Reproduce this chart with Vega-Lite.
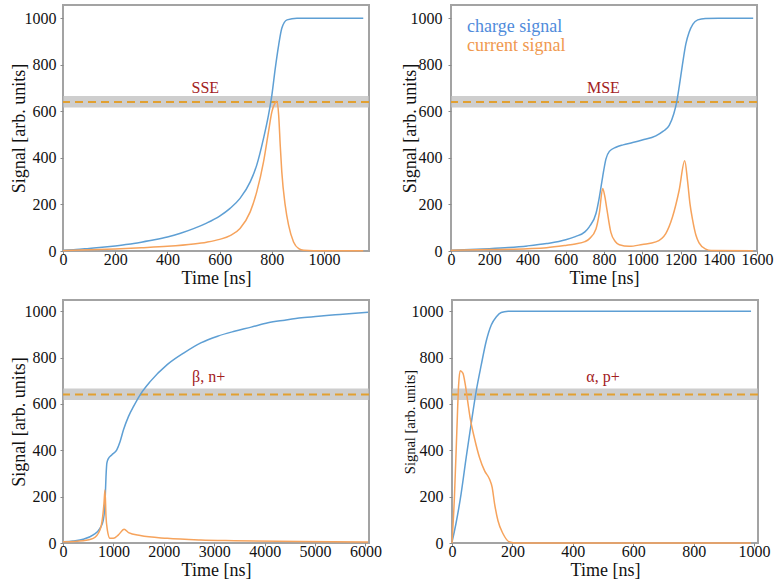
{
  "$schema": "https://vega.github.io/schema/vega-lite/v6.json",
  "padding": {"left": 9, "top": 4, "right": 0, "bottom": 0},
  "background": "white",
  "datasets": {
    "band": [{"lo": 617, "hi": 666, "thr": 640}],
    "labels": [
      {"panel": "SSE", "t": 545, "v": 700, "label": "SSE"},
      {"panel": "MSE", "t": 797, "v": 700, "label": "MSE"},
      {"panel": "beta", "t": 2890, "v": 718, "label": "β, n+"},
      {"panel": "alpha", "t": 500, "v": 718, "label": "α, p+"}
    ],
    "sse": [
      {"t": 0, "v": 3, "s": "charge signal"}, {"t": 50, "v": 6, "s": "charge signal"}, {"t": 100, "v": 11, "s": "charge signal"}, {"t": 150, "v": 16, "s": "charge signal"}, {"t": 200, "v": 22, "s": "charge signal"}, {"t": 250, "v": 29, "s": "charge signal"}, {"t": 300, "v": 38, "s": "charge signal"}, {"t": 350, "v": 48, "s": "charge signal"}, {"t": 400, "v": 60, "s": "charge signal"}, {"t": 450, "v": 76, "s": "charge signal"}, {"t": 500, "v": 96, "s": "charge signal"}, {"t": 550, "v": 120, "s": "charge signal"}, {"t": 600, "v": 150, "s": "charge signal"}, {"t": 640, "v": 183, "s": "charge signal"}, {"t": 678, "v": 226, "s": "charge signal"}, {"t": 717, "v": 297, "s": "charge signal"}, {"t": 742, "v": 369, "s": "charge signal"}, {"t": 768, "v": 484, "s": "charge signal"}, {"t": 787, "v": 584, "s": "charge signal"}, {"t": 800, "v": 670, "s": "charge signal"}, {"t": 813, "v": 785, "s": "charge signal"}, {"t": 826, "v": 885, "s": "charge signal"}, {"t": 838, "v": 957, "s": "charge signal"}, {"t": 858, "v": 993, "s": "charge signal"}, {"t": 896, "v": 1000, "s": "charge signal"}, {"t": 1000, "v": 1000, "s": "charge signal"}, {"t": 1150, "v": 1000, "s": "charge signal"},
      {"t": 0, "v": 2, "s": "current signal"}, {"t": 100, "v": 5, "s": "current signal"}, {"t": 200, "v": 9, "s": "current signal"}, {"t": 300, "v": 14, "s": "current signal"}, {"t": 400, "v": 20, "s": "current signal"}, {"t": 500, "v": 30, "s": "current signal"}, {"t": 550, "v": 38, "s": "current signal"}, {"t": 600, "v": 50, "s": "current signal"}, {"t": 640, "v": 66, "s": "current signal"}, {"t": 678, "v": 97, "s": "current signal"}, {"t": 717, "v": 168, "s": "current signal"}, {"t": 742, "v": 254, "s": "current signal"}, {"t": 768, "v": 383, "s": "current signal"}, {"t": 787, "v": 512, "s": "current signal"}, {"t": 800, "v": 598, "s": "current signal"}, {"t": 812, "v": 635, "s": "current signal"}, {"t": 819, "v": 643, "s": "current signal"}, {"t": 826, "v": 584, "s": "current signal"}, {"t": 832, "v": 455, "s": "current signal"}, {"t": 838, "v": 340, "s": "current signal"}, {"t": 851, "v": 197, "s": "current signal"}, {"t": 864, "v": 111, "s": "current signal"}, {"t": 883, "v": 39, "s": "current signal"}, {"t": 903, "v": 10, "s": "current signal"}, {"t": 922, "v": 3, "s": "current signal"}, {"t": 960, "v": 1, "s": "current signal"}, {"t": 1150, "v": 1, "s": "current signal"}
    ],
    "mse": [
      {"t": 0, "v": 3, "s": "charge signal"}, {"t": 100, "v": 6, "s": "charge signal"}, {"t": 200, "v": 10, "s": "charge signal"}, {"t": 300, "v": 15, "s": "charge signal"}, {"t": 400, "v": 22, "s": "charge signal"}, {"t": 500, "v": 32, "s": "charge signal"}, {"t": 600, "v": 48, "s": "charge signal"}, {"t": 650, "v": 62, "s": "charge signal"}, {"t": 700, "v": 82, "s": "charge signal"}, {"t": 723, "v": 104, "s": "charge signal"}, {"t": 758, "v": 161, "s": "charge signal"}, {"t": 776, "v": 233, "s": "charge signal"}, {"t": 793, "v": 319, "s": "charge signal"}, {"t": 810, "v": 395, "s": "charge signal"}, {"t": 828, "v": 428, "s": "charge signal"}, {"t": 863, "v": 446, "s": "charge signal"}, {"t": 900, "v": 456, "s": "charge signal"}, {"t": 950, "v": 466, "s": "charge signal"}, {"t": 1000, "v": 477, "s": "charge signal"}, {"t": 1071, "v": 495, "s": "charge signal"}, {"t": 1110, "v": 515, "s": "charge signal"}, {"t": 1141, "v": 540, "s": "charge signal"}, {"t": 1165, "v": 590, "s": "charge signal"}, {"t": 1180, "v": 640, "s": "charge signal"}, {"t": 1193, "v": 705, "s": "charge signal"}, {"t": 1210, "v": 800, "s": "charge signal"}, {"t": 1228, "v": 890, "s": "charge signal"}, {"t": 1245, "v": 940, "s": "charge signal"}, {"t": 1265, "v": 975, "s": "charge signal"}, {"t": 1290, "v": 993, "s": "charge signal"}, {"t": 1330, "v": 999, "s": "charge signal"}, {"t": 1400, "v": 1000, "s": "charge signal"}, {"t": 1580, "v": 1000, "s": "charge signal"},
      {"t": 0, "v": 3, "s": "current signal"}, {"t": 200, "v": 6, "s": "current signal"}, {"t": 400, "v": 10, "s": "current signal"}, {"t": 500, "v": 14, "s": "current signal"}, {"t": 600, "v": 24, "s": "current signal"}, {"t": 650, "v": 30, "s": "current signal"}, {"t": 700, "v": 40, "s": "current signal"}, {"t": 723, "v": 52, "s": "current signal"}, {"t": 758, "v": 95, "s": "current signal"}, {"t": 776, "v": 165, "s": "current signal"}, {"t": 793, "v": 269, "s": "current signal"}, {"t": 803, "v": 240, "s": "current signal"}, {"t": 815, "v": 180, "s": "current signal"}, {"t": 836, "v": 80, "s": "current signal"}, {"t": 860, "v": 40, "s": "current signal"}, {"t": 880, "v": 27, "s": "current signal"}, {"t": 932, "v": 20, "s": "current signal"}, {"t": 1000, "v": 28, "s": "current signal"}, {"t": 1071, "v": 39, "s": "current signal"}, {"t": 1123, "v": 75, "s": "current signal"}, {"t": 1158, "v": 146, "s": "current signal"}, {"t": 1193, "v": 261, "s": "current signal"}, {"t": 1222, "v": 388, "s": "current signal"}, {"t": 1237, "v": 300, "s": "current signal"}, {"t": 1250, "v": 200, "s": "current signal"}, {"t": 1263, "v": 135, "s": "current signal"}, {"t": 1280, "v": 70, "s": "current signal"}, {"t": 1297, "v": 35, "s": "current signal"}, {"t": 1332, "v": 8, "s": "current signal"}, {"t": 1360, "v": 2, "s": "current signal"}, {"t": 1580, "v": 1, "s": "current signal"}
    ],
    "beta": [
      {"t": 0, "v": 5, "s": "charge signal"}, {"t": 200, "v": 9, "s": "charge signal"}, {"t": 400, "v": 16, "s": "charge signal"}, {"t": 600, "v": 35, "s": "charge signal"}, {"t": 733, "v": 63, "s": "charge signal"}, {"t": 800, "v": 99, "s": "charge signal"}, {"t": 833, "v": 171, "s": "charge signal"}, {"t": 853, "v": 287, "s": "charge signal"}, {"t": 870, "v": 344, "s": "charge signal"}, {"t": 900, "v": 364, "s": "charge signal"}, {"t": 967, "v": 380, "s": "charge signal"}, {"t": 1067, "v": 402, "s": "charge signal"}, {"t": 1133, "v": 438, "s": "charge signal"}, {"t": 1200, "v": 488, "s": "charge signal"}, {"t": 1300, "v": 546, "s": "charge signal"}, {"t": 1400, "v": 589, "s": "charge signal"}, {"t": 1533, "v": 640, "s": "charge signal"}, {"t": 1733, "v": 697, "s": "charge signal"}, {"t": 2067, "v": 769, "s": "charge signal"}, {"t": 2400, "v": 820, "s": "charge signal"}, {"t": 2733, "v": 863, "s": "charge signal"}, {"t": 3067, "v": 892, "s": "charge signal"}, {"t": 3400, "v": 913, "s": "charge signal"}, {"t": 3733, "v": 931, "s": "charge signal"}, {"t": 4067, "v": 950, "s": "charge signal"}, {"t": 4400, "v": 961, "s": "charge signal"}, {"t": 4733, "v": 971, "s": "charge signal"}, {"t": 5067, "v": 978, "s": "charge signal"}, {"t": 5400, "v": 984, "s": "charge signal"}, {"t": 5733, "v": 990, "s": "charge signal"}, {"t": 6050, "v": 995, "s": "charge signal"},
      {"t": 0, "v": 5, "s": "current signal"}, {"t": 400, "v": 10, "s": "current signal"}, {"t": 600, "v": 20, "s": "current signal"}, {"t": 733, "v": 56, "s": "current signal"}, {"t": 787, "v": 114, "s": "current signal"}, {"t": 813, "v": 171, "s": "current signal"}, {"t": 833, "v": 229, "s": "current signal"}, {"t": 853, "v": 114, "s": "current signal"}, {"t": 880, "v": 56, "s": "current signal"}, {"t": 933, "v": 20, "s": "current signal"}, {"t": 1000, "v": 20, "s": "current signal"}, {"t": 1100, "v": 35, "s": "current signal"}, {"t": 1213, "v": 59, "s": "current signal"}, {"t": 1300, "v": 45, "s": "current signal"}, {"t": 1533, "v": 32, "s": "current signal"}, {"t": 2067, "v": 20, "s": "current signal"}, {"t": 2733, "v": 13, "s": "current signal"}, {"t": 3400, "v": 10, "s": "current signal"}, {"t": 4733, "v": 6, "s": "current signal"}, {"t": 6050, "v": 4, "s": "current signal"}
    ],
    "alpha": [
      {"t": 0, "v": 4, "s": "charge signal"}, {"t": 13, "v": 83, "s": "charge signal"}, {"t": 30, "v": 211, "s": "charge signal"}, {"t": 47, "v": 369, "s": "charge signal"}, {"t": 63, "v": 511, "s": "charge signal"}, {"t": 80, "v": 654, "s": "charge signal"}, {"t": 97, "v": 769, "s": "charge signal"}, {"t": 113, "v": 869, "s": "charge signal"}, {"t": 130, "v": 940, "s": "charge signal"}, {"t": 147, "v": 976, "s": "charge signal"}, {"t": 163, "v": 994, "s": "charge signal"}, {"t": 186, "v": 999, "s": "charge signal"}, {"t": 213, "v": 1000, "s": "charge signal"}, {"t": 990, "v": 1000, "s": "charge signal"},
      {"t": 0, "v": 0, "s": "current signal"}, {"t": 8, "v": 197, "s": "current signal"}, {"t": 16, "v": 483, "s": "current signal"}, {"t": 22, "v": 683, "s": "current signal"}, {"t": 27, "v": 743, "s": "current signal"}, {"t": 36, "v": 733, "s": "current signal"}, {"t": 44, "v": 683, "s": "current signal"}, {"t": 52, "v": 611, "s": "current signal"}, {"t": 60, "v": 540, "s": "current signal"}, {"t": 74, "v": 454, "s": "current signal"}, {"t": 91, "v": 369, "s": "current signal"}, {"t": 108, "v": 311, "s": "current signal"}, {"t": 124, "v": 276, "s": "current signal"}, {"t": 133, "v": 240, "s": "current signal"}, {"t": 141, "v": 169, "s": "current signal"}, {"t": 152, "v": 97, "s": "current signal"}, {"t": 169, "v": 40, "s": "current signal"}, {"t": 191, "v": 4, "s": "current signal"}, {"t": 213, "v": 0, "s": "current signal"}, {"t": 990, "v": 0, "s": "current signal"}
    ]
  },
  "vconcat": [
    {
      "hconcat": [
        {
          "width": 306, "height": 246,
          "layer": [
            {"data": {"name": "band"}, "mark": {"type": "rect", "color": "#bdbdbd", "opacity": 0.75}, "encoding": {"y": {"field": "lo", "type": "quantitative", "title": "Signal [arb. units]", "axis": {"values": [0, 200, 400, 600, 800, 1000], "titlePadding": -4}}, "y2": {"field": "hi"}}},
            {"data": {"name": "band"}, "mark": {"type": "rule", "color": "#e2a030", "strokeWidth": 2, "strokeDash": [8, 5]}, "encoding": {"y": {"field": "thr", "type": "quantitative", "title": "Signal [arb. units]", "axis": {"values": [0, 200, 400, 600, 800, 1000], "titlePadding": -4}}}},
            {"data": {"name": "sse"}, "mark": {"type": "line", "strokeWidth": 1.5, "interpolate": "monotone"},
             "encoding": {
               "x": {"field": "t", "type": "quantitative", "title": "Time [ns]", "scale": {"domain": [0, 1172], "nice": false, "zero": false}, "axis": {"values": [0, 200, 400, 600, 800, 1000]}},
               "y": {"field": "v", "type": "quantitative", "title": "Signal [arb. units]", "scale": {"domain": [0, 1057], "nice": false}, "axis": {"values": [0, 200, 400, 600, 800, 1000], "titlePadding": -4}},
               "color": {"field": "s", "type": "nominal", "scale": {"domain": ["charge signal", "current signal"], "range": ["#5e9fd4", "#f6a35c"]}, "legend": null}
             }},
            {"data": {"name": "labels"}, "transform": [{"filter": "datum.panel === 'SSE'"}], "mark": {"type": "text", "fontSize": 16, "color": "#a3211d", "font": "Liberation Serif"},
             "encoding": {"x": {"field": "t", "type": "quantitative", "title": "Time [ns]", "axis": {"values": [0, 200, 400, 600, 800, 1000]}}, "y": {"field": "v", "type": "quantitative", "title": "Signal [arb. units]", "axis": {"values": [0, 200, 400, 600, 800, 1000], "titlePadding": -4}}, "text": {"field": "label"}}}
          ]
        },
        {
          "width": 306, "height": 246,
          "layer": [
            {"data": {"name": "band"}, "mark": {"type": "rect", "color": "#bdbdbd", "opacity": 0.75}, "encoding": {"y": {"field": "lo", "type": "quantitative", "title": "Signal [arb. units]", "axis": {"values": [0, 200, 400, 600, 800, 1000], "labelPadding": 6, "titlePadding": -9}}, "y2": {"field": "hi"}}},
            {"data": {"name": "band"}, "mark": {"type": "rule", "color": "#e2a030", "strokeWidth": 2, "strokeDash": [8, 5]}, "encoding": {"y": {"field": "thr", "type": "quantitative", "title": "Signal [arb. units]", "axis": {"values": [0, 200, 400, 600, 800, 1000], "labelPadding": 6, "titlePadding": -9}}}},
            {"data": {"name": "mse"}, "mark": {"type": "line", "strokeWidth": 1.5, "interpolate": "monotone"},
             "encoding": {
               "x": {"field": "t", "type": "quantitative", "title": "Time [ns]", "scale": {"domain": [0, 1600], "nice": false, "zero": false}, "axis": {"values": [0, 200, 400, 600, 800, 1000, 1200, 1400, 1600]}},
               "y": {"field": "v", "type": "quantitative", "title": "Signal [arb. units]", "scale": {"domain": [0, 1057], "nice": false}, "axis": {"values": [0, 200, 400, 600, 800, 1000], "labelPadding": 6, "titlePadding": -9}},
               "color": {"field": "s", "type": "nominal", "scale": {"domain": ["charge signal", "current signal"], "range": ["#5e9fd4", "#f6a35c"]},
                 "legend": {"orient": "top-left", "offset": 13, "padding": 0, "title": null, "symbolSize": 0, "symbolStrokeWidth": 0, "symbolOpacity": 0, "labelOffset": -15, "labelFont": "Liberation Serif", "labelFontSize": 18, "rowPadding": 1, "labelLimit": 300,
                   "encode": {"labels": {"update": {"fill": {"signal": "datum.value === 'charge signal' ? '#4f8bdb' : '#f0994f'"}}}}}}
             }},
            {"data": {"name": "labels"}, "transform": [{"filter": "datum.panel === 'MSE'"}], "mark": {"type": "text", "fontSize": 16, "color": "#a3211d", "font": "Liberation Serif"},
             "encoding": {"x": {"field": "t", "type": "quantitative", "title": "Time [ns]", "axis": {"values": [0, 200, 400, 600, 800, 1000, 1200, 1400, 1600]}}, "y": {"field": "v", "type": "quantitative", "title": "Signal [arb. units]", "axis": {"values": [0, 200, 400, 600, 800, 1000], "labelPadding": 6, "titlePadding": -9}}, "text": {"field": "label"}}}
          ]
        }
      ],
      "spacing": 29,
      "resolve": {"scale": {"color": "independent"}, "legend": {"color": "independent"}}
    },
    {
      "hconcat": [
        {
          "width": 306, "height": 243,
          "layer": [
            {"data": {"name": "band"}, "mark": {"type": "rect", "color": "#bdbdbd", "opacity": 0.75}, "encoding": {"y": {"field": "lo", "type": "quantitative", "title": "Signal [arb. units]", "axis": {"values": [0, 200, 400, 600, 800, 1000], "titlePadding": -4}}, "y2": {"field": "hi"}}},
            {"data": {"name": "band"}, "mark": {"type": "rule", "color": "#e2a030", "strokeWidth": 2, "strokeDash": [8, 5]}, "encoding": {"y": {"field": "thr", "type": "quantitative", "title": "Signal [arb. units]", "axis": {"values": [0, 200, 400, 600, 800, 1000], "titlePadding": -4}}}},
            {"data": {"name": "beta"}, "mark": {"type": "line", "strokeWidth": 1.5, "interpolate": "monotone"},
             "encoding": {
               "x": {"field": "t", "type": "quantitative", "title": "Time [ns]", "scale": {"domain": [0, 6070], "nice": false, "zero": false}, "axis": {"values": [0, 1000, 2000, 3000, 4000, 5000, 6000]}},
               "y": {"field": "v", "type": "quantitative", "title": "Signal [arb. units]", "scale": {"domain": [0, 1048], "nice": false}, "axis": {"values": [0, 200, 400, 600, 800, 1000], "titlePadding": -4}},
               "color": {"field": "s", "type": "nominal", "scale": {"domain": ["charge signal", "current signal"], "range": ["#5e9fd4", "#f6a35c"]}, "legend": null}
             }},
            {"data": {"name": "labels"}, "transform": [{"filter": "datum.panel === 'beta'"}], "mark": {"type": "text", "fontSize": 16, "color": "#a3211d", "font": "Liberation Serif"},
             "encoding": {"x": {"field": "t", "type": "quantitative", "title": "Time [ns]", "axis": {"values": [0, 1000, 2000, 3000, 4000, 5000, 6000]}}, "y": {"field": "v", "type": "quantitative", "title": "Signal [arb. units]", "axis": {"values": [0, 200, 400, 600, 800, 1000], "titlePadding": -4}}, "text": {"field": "label"}}}
          ]
        },
        {
          "width": 306, "height": 243,
          "layer": [
            {"data": {"name": "band"}, "mark": {"type": "rect", "color": "#bdbdbd", "opacity": 0.75}, "encoding": {"y": {"field": "lo", "type": "quantitative", "title": "Signal [arb. units]", "axis": {"values": [0, 200, 400, 600, 800, 1000], "labelPadding": 6, "titlePadding": -6, "titleFontSize": 14.5}}, "y2": {"field": "hi"}}},
            {"data": {"name": "band"}, "mark": {"type": "rule", "color": "#e2a030", "strokeWidth": 2, "strokeDash": [8, 5]}, "encoding": {"y": {"field": "thr", "type": "quantitative", "title": "Signal [arb. units]", "axis": {"values": [0, 200, 400, 600, 800, 1000], "labelPadding": 6, "titlePadding": -6, "titleFontSize": 14.5}}}},
            {"data": {"name": "alpha"}, "mark": {"type": "line", "strokeWidth": 1.5, "interpolate": "monotone"},
             "encoding": {
               "x": {"field": "t", "type": "quantitative", "title": "Time [ns]", "scale": {"domain": [0, 1013], "nice": false, "zero": false}, "axis": {"values": [0, 200, 400, 600, 800, 1000]}},
               "y": {"field": "v", "type": "quantitative", "title": "Signal [arb. units]", "scale": {"domain": [0, 1048], "nice": false}, "axis": {"values": [0, 200, 400, 600, 800, 1000], "labelPadding": 6, "titlePadding": -6, "titleFontSize": 14.5}},
               "color": {"field": "s", "type": "nominal", "scale": {"domain": ["charge signal", "current signal"], "range": ["#5e9fd4", "#f6a35c"]}, "legend": null}
             }},
            {"data": {"name": "labels"}, "transform": [{"filter": "datum.panel === 'alpha'"}], "mark": {"type": "text", "fontSize": 16, "color": "#a3211d", "font": "Liberation Serif"},
             "encoding": {"x": {"field": "t", "type": "quantitative", "title": "Time [ns]", "axis": {"values": [0, 200, 400, 600, 800, 1000]}}, "y": {"field": "v", "type": "quantitative", "title": "Signal [arb. units]", "axis": {"values": [0, 200, 400, 600, 800, 1000], "labelPadding": 6, "titlePadding": -6, "titleFontSize": 14.5}}, "text": {"field": "label"}}}
          ]
        }
      ],
      "spacing": 18,
      "resolve": {"scale": {"color": "independent"}, "legend": {"color": "independent"}}
    }
  ],
  "spacing": 11,
  "resolve": {"scale": {"color": "independent"}, "legend": {"color": "independent"}},
  "config": {
    "font": "Liberation Serif",
    "view": {"stroke": "#a3a3a3", "strokeWidth": 2},
    "axis": {"grid": false, "domain": false, "tickColor": "#8a8a8a", "tickSize": 3, "format": "d", "labelFont": "Liberation Serif", "labelFontSize": 16, "labelColor": "#111111", "titleFont": "Liberation Serif", "titleFontSize": 18, "titleFontWeight": "normal", "titleColor": "#111111", "labelOverlap": false, "labelFlush": false, "labelSeparation": 0},
    "axisX": {"labelPadding": -3, "titlePadding": 2},
    "axisY": {"labelPadding": 4, "titlePadding": -4}
  }
}
